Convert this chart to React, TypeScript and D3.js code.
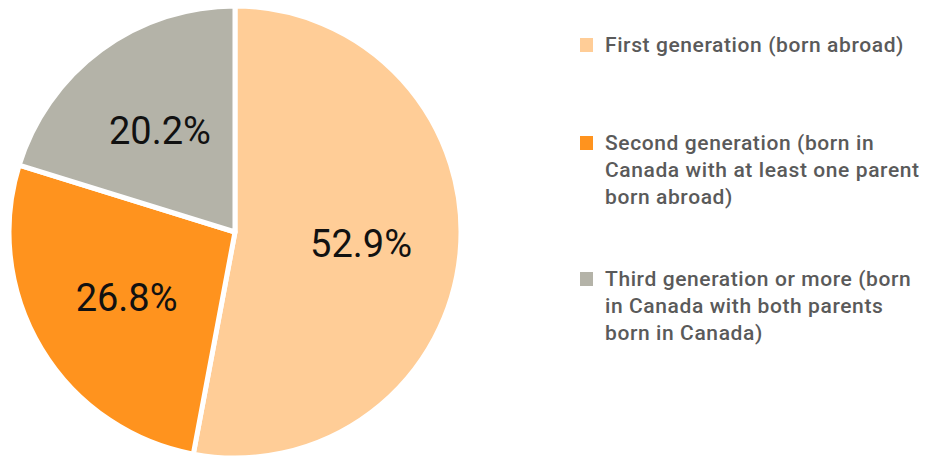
import * as d3 from 'd3'

const categories = [
  'First generation (born abroad)',
  'Second generation (born in Canada with at least one parent born abroad)',
  'Third generation or more (born in Canada with both parents born in Canada)',
]
const values = [52.9, 26.8, 20.2]
const legendLines = [
  ['First generation (born abroad)'],
  ['Second generation (born in', 'Canada with at least one parent', 'born abroad)'],
  ['Third generation or more (born', 'in Canada with both parents', 'born in Canada)'],
]
const colors = ['#FFCD97', '#FF931E', '#B4B3A8']

const W = 929
const H = 459
const CX = 235
const CY = 232
const R = 226

export default function App() {
  const pie = d3.pie<number>().sort(null).value(d => d)
  const arcs = pie(values)
  const arc = d3.arc<d3.PieArcDatum<number>>().innerRadius(0).outerRadius(R)
  const labelArc = d3.arc<d3.PieArcDatum<number>>().innerRadius(R * 0.56).outerRadius(R * 0.56)

  const legendTop = [45, 143, 279]

  return (
    <svg width={W} height={H} style={{ position: 'absolute', left: 0, top: 0, background: '#fff' }}>
      <g transform={`translate(${CX},${CY})`}>
        {arcs.map((a, i) => (
          <path key={categories[i]} d={arc(a) ?? ''} fill={colors[i]} stroke="#fff" strokeWidth={5} strokeLinejoin="round" />
        ))}
        {arcs.map((a, i) => {
          const [x, y] = labelArc.centroid(a)
          return (
            <text key={'l' + i} x={x} y={y} dy="0.36em" textAnchor="middle"
              fontFamily="Roboto, sans-serif" fontSize={38} fill="#111">
              {values[i].toFixed(1)}%
            </text>
          )
        })}
      </g>
      <g fontFamily="Roboto, sans-serif" fontSize={21} fontWeight={500} letterSpacing={0.6} fill="#5a5a5a">
        {legendLines.map((lines, i) => (
          <g key={'g' + i}>
            <rect x={580} y={legendTop[i] - 7} width={13} height={14} fill={colors[i]} />
            {lines.map((t, j) => (
              <text key={j} x={605} y={legendTop[i] + j * 27} dy="0.35em">{t}</text>
            ))}
          </g>
        ))}
      </g>
    </svg>
  )
}
